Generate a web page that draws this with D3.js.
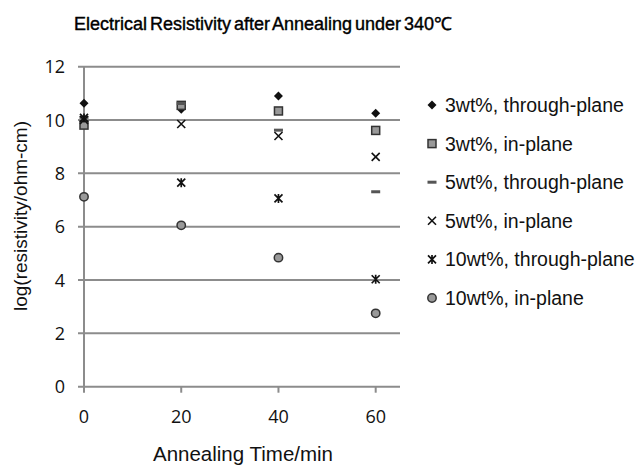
<!DOCTYPE html>
<html>
<head>
<meta charset="utf-8">
<script src="https://cdn.jsdelivr.net/npm/d3@7"></script>
<style>
  body { margin: 0; background: #fff; }
  svg { display: block; }
</style>
</head>
<body>
<div id="chart"></div>
<script>
// data
const times = [0, 20, 40, 60];
const xTicks = [0, 20, 40, 60];
const yTicks = [0, 2, 4, 6, 8, 10, 12];
const seriesNames = [
    "3wt%, through-plane",
    "3wt%, in-plane",
    "5wt%, through-plane",
    "5wt%, in-plane",
    "10wt%, through-plane",
    "10wt%, in-plane"
];
const s3Through = [10.63, 10.4, 10.9, 10.25];
const s3In = [9.81, 10.55, 10.34, 9.61];
const s5Through = [10.1, 10.62, 9.62, 7.31];
const s5In = [10.0, 9.85, 9.4, 8.62];
const s10Through = [10.08, 7.65, 7.06, 4.03];
const s10In = [7.12, 6.05, 4.84, 2.75];
const seriesValues = [s3Through, s3In, s5Through, s5In, s10Through, s10In];

const width = 641, height = 465;
const svg = d3.select("#chart").append("svg")
    .attr("width", width)
    .attr("height", height);

const x = d3.scaleLinear().domain([0, 65]).range([84, 400]);
const y = d3.scaleLinear().domain([0, 12]).range([386.7, 66.7]);

const gridColor = "#8c8c8c";
const sansFont = "'Liberation Sans', Arial, sans-serif";
const tickFont = "'Open Sans', sans-serif";

// horizontal gridlines with left tick stubs
svg.append("g")
    .selectAll("line")
    .data(yTicks)
    .join("line")
    .attr("x1", x(0) - 6)
    .attr("x2", x(65))
    .attr("y1", d => y(d))
    .attr("y2", d => y(d))
    .attr("stroke", gridColor)
    .attr("stroke-width", 2);

// y axis line
svg.append("line")
    .attr("x1", x(0)).attr("x2", x(0))
    .attr("y1", y(12)).attr("y2", y(0))
    .attr("stroke", gridColor)
    .attr("stroke-width", 2);

// bottom ticks
svg.append("g")
    .selectAll("line")
    .data(xTicks)
    .join("line")
    .attr("x1", d => x(d)).attr("x2", d => x(d))
    .attr("y1", y(0)).attr("y2", y(0) + 6)
    .attr("stroke", gridColor)
    .attr("stroke-width", 2);

// tick labels
svg.append("g")
    .selectAll("text")
    .data(yTicks)
    .join("text")
    .attr("x", 65)
    .attr("y", d => y(d))
    .attr("dy", "0.36em")
    .attr("text-anchor", "end")
    .style("font-family", tickFont)
    .style("font-size", "18px")
    .style("fill", "#111")
    .text(d => d);

svg.append("g")
    .selectAll("text")
    .data(xTicks)
    .join("text")
    .attr("x", d => x(d))
    .attr("y", 423)
    .attr("text-anchor", "middle")
    .style("font-family", tickFont)
    .style("font-size", "18px")
    .style("fill", "#111")
    .text(d => d);

// axis titles
svg.append("text")
    .attr("x", 243)
    .attr("y", 461)
    .attr("text-anchor", "middle")
    .style("font-family", sansFont)
    .style("font-size", "20.5px")
    .style("fill", "#111")
    .text("Annealing Time/min");

svg.append("text")
    .attr("transform", "translate(27,216) rotate(-90)")
    .attr("text-anchor", "middle")
    .style("font-family", sansFont)
    .style("font-size", "19px")
    .style("fill", "#111")
    .text("log(resistivity/ohm-cm)");

// title
svg.append("text")
    .attr("x", 263)
    .attr("y", 30)
    .attr("text-anchor", "middle")
    .style("font-family", sansFont)
    .style("font-size", "18px")
    .style("fill", "#000")
    .style("stroke", "#000")
    .style("stroke-width", 0.4)
    .style("word-spacing", "-2px")
    .text("Electrical Resistivity after Annealing under 340℃");

// marker drawing
function drawMarker(g, i) {
    if (i === 0) {
        g.append("path")
            .attr("d", "M0,-4.5L4.5,0L0,4.5L-4.5,0Z")
            .attr("fill", "#111");
    } else if (i === 1) {
        g.append("rect")
            .attr("x", -4).attr("y", -4)
            .attr("width", 8).attr("height", 8)
            .attr("fill", "#999")
            .attr("stroke", "#333")
            .attr("stroke-width", 1.5);
    } else if (i === 2) {
        g.append("rect")
            .attr("x", -4.5).attr("y", -1.5)
            .attr("width", 9).attr("height", 3)
            .attr("fill", "#555");
    } else if (i === 3) {
        g.append("path")
            .attr("d", "M-4,-4L4,4M-4,4L4,-4")
            .attr("stroke", "#111")
            .attr("stroke-width", 1.6);
    } else if (i === 4) {
        g.append("path")
            .attr("d", "M-4,-4L4,4M-4,4L4,-4M0,-4.5L0,4.5")
            .attr("stroke", "#111")
            .attr("stroke-width", 1.7);
    } else {
        g.append("circle")
            .attr("r", 4.2)
            .attr("fill", "#999")
            .attr("stroke", "#333")
            .attr("stroke-width", 1.5);
    }
}

// points
seriesValues.forEach((vals, i) => {
    svg.append("g")
        .selectAll("g")
        .data(vals.map((v, k) => ({t: times[k], v: v})))
        .join("g")
        .attr("transform", d => `translate(${x(d.t)},${y(d.v)})`)
        .each(function() { drawMarker(d3.select(this), i); });
});

// legend
const legend = svg.append("g");
seriesNames.forEach((name, i) => {
    const ly = 105 + i * 38.6;
    const m = legend.append("g").attr("transform", `translate(432,${ly})`);
    drawMarker(m, i);
    legend.append("text")
        .attr("x", 445)
        .attr("y", ly)
        .attr("dy", "0.36em")
        .style("font-family", sansFont)
        .style("font-size", "19.5px")
        .style("fill", "#111")
        .text(name);
});
</script>
</body>
</html>
